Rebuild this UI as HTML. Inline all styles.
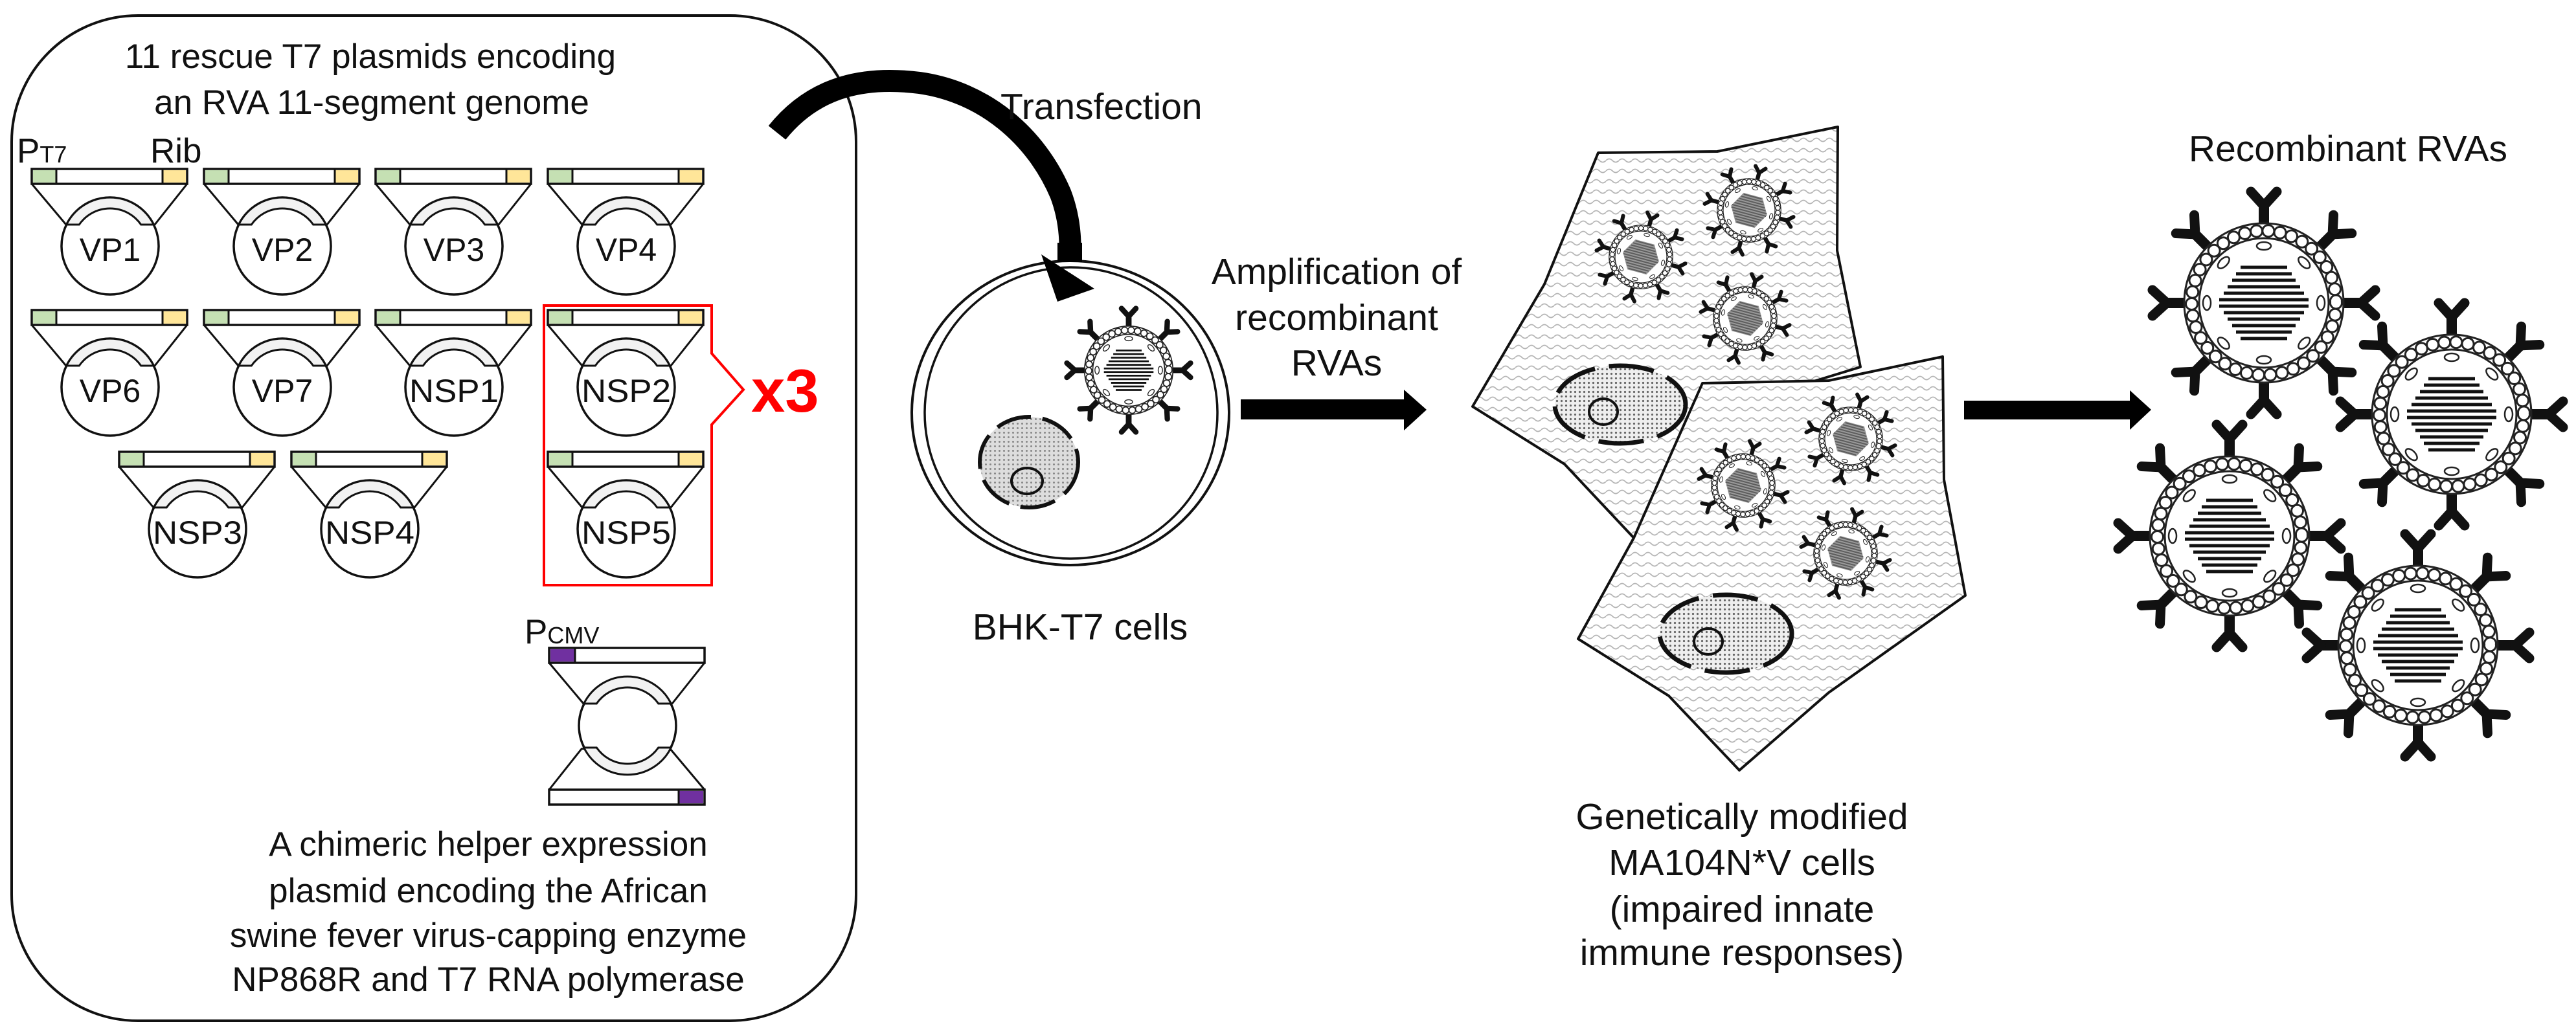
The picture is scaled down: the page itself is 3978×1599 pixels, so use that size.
<!DOCTYPE html>
<html><head><meta charset="utf-8"><style>html,body{margin:0;padding:0;background:#fff}svg{display:block}</style></head>
<body>
<svg width="3978" height="1599" viewBox="0 0 3978 1599" xmlns="http://www.w3.org/2000/svg" font-family="'Liberation Sans', Arial, sans-serif">
<defs>
  <pattern id="wave" width="20" height="16" patternUnits="userSpaceOnUse">
    <rect width="20" height="16" fill="#fff"/>
    <path d="M0,8 Q5,3 10,8 T20,8" fill="none" stroke="#b5b5b5" stroke-width="1.8"/>
  </pattern>
  <pattern id="dots" width="7" height="7" patternUnits="userSpaceOnUse">
    <rect width="7" height="7" fill="#eee"/>
    <circle cx="3.5" cy="3.5" r="1.6" fill="#666"/>
  </pattern>
  <pattern id="dots2" width="7" height="7" patternUnits="userSpaceOnUse">
    <rect width="7" height="7" fill="#ddd"/>
    <circle cx="3.5" cy="3.5" r="1.5" fill="#888"/>
  </pattern>
  <g id="sp">
    <rect x="-8" y="-152" width="16" height="34" fill="#111"/>
    <path d="M0,-150 L-20,-172 M0,-150 L20,-172" stroke="#111" stroke-width="15" stroke-linecap="round" fill="none"/>
  </g>
  <ellipse id="ov" cx="0" cy="-88" rx="11" ry="6" fill="#fff" stroke="#222" stroke-width="2.5"/>
  <g id="v">
    <use href="#sp"/><use href="#sp" transform="rotate(45)"/><use href="#sp" transform="rotate(90)"/><use href="#sp" transform="rotate(135)"/>
    <use href="#sp" transform="rotate(180)"/><use href="#sp" transform="rotate(225)"/><use href="#sp" transform="rotate(270)"/><use href="#sp" transform="rotate(315)"/>
    <circle r="123" fill="#fff" stroke="#222" stroke-width="3"/>
    <circle r="111.5" fill="none" stroke="#222" stroke-width="21" stroke-dasharray="0 18.35" stroke-linecap="round"/>
    <circle r="111.5" fill="none" stroke="#fff" stroke-width="15" stroke-dasharray="0 18.35" stroke-linecap="round"/>
    <circle r="100" fill="#fff" stroke="#222" stroke-width="3"/>
    <use href="#ov"/><use href="#ov" transform="rotate(45)"/><use href="#ov" transform="rotate(90)"/><use href="#ov" transform="rotate(135)"/>
    <use href="#ov" transform="rotate(180)"/><use href="#ov" transform="rotate(225)"/><use href="#ov" transform="rotate(270)"/><use href="#ov" transform="rotate(315)"/>
    <g stroke="#111" stroke-width="5">
      <line x1="-36" y1="-55" x2="36" y2="-55"/><line x1="-43" y1="-45" x2="43" y2="-45"/>
      <line x1="-49" y1="-35" x2="49" y2="-35"/><line x1="-56" y1="-25" x2="56" y2="-25"/>
      <line x1="-62" y1="-15" x2="62" y2="-15"/><line x1="-69" y1="-5" x2="69" y2="-5"/>
      <line x1="-69" y1="5" x2="69" y2="5"/><line x1="-62" y1="15" x2="62" y2="15"/>
      <line x1="-56" y1="25" x2="56" y2="25"/><line x1="-49" y1="35" x2="49" y2="35"/>
      <line x1="-43" y1="45" x2="43" y2="45"/><line x1="-36" y1="55" x2="36" y2="55"/>
    </g>
  </g>
  <g id="vs">
    <use href="#v"/>
    <polygon points="-38,-60 38,-60 72,0 38,60 -38,60 -72,0" fill="#777" opacity="0.75"/>
  </g>
  <g id="tb">
    <polygon points="0,23 53,86 190,86 240,23" fill="#fff" stroke="#111" stroke-width="3" stroke-linejoin="round"/>
    <circle cx="121" cy="119" r="75" fill="#fff" stroke="#111" stroke-width="3.5"/>
    <path d="M53.7,86 A75,75 0 0 1 188.3,86 L168.7,86 A58,58 0 0 0 73.3,86 Z" fill="#f2f2f2" stroke="#111" stroke-width="3"/>
  </g>
  <g id="pl">
    <use href="#tb"/>
    <rect x="0" y="0" width="240" height="23" fill="#fff" stroke="#111" stroke-width="3.5"/>
    <rect x="2" y="2" width="36" height="19" fill="#c5e0b3"/>
    <rect x="202" y="2" width="36" height="19" fill="#ffe699"/>
    <line x1="38" y1="0" x2="38" y2="23" stroke="#111" stroke-width="3"/>
    <line x1="202" y1="0" x2="202" y2="23" stroke="#111" stroke-width="3"/>
  </g>
  <g id="hp">
    <polygon points="0,23 53,86 190,86 240,23" fill="#fff" stroke="#111" stroke-width="3" stroke-linejoin="round"/>
    <rect x="0" y="0" width="240" height="23" fill="#fff" stroke="#111" stroke-width="3.5"/>
    <rect x="2" y="2" width="38" height="19" fill="#7030a0"/>
    <line x1="40" y1="0" x2="40" y2="23" stroke="#111" stroke-width="3"/>
  </g>
  <path id="hband" d="M53.7,86 A75,75 0 0 1 188.3,86 L168.7,86 A58,58 0 0 0 73.3,86 Z" fill="#f2f2f2" stroke="#111" stroke-width="3"/>
</defs>

<rect x="18" y="24" width="1304" height="1553" rx="195" ry="195" fill="#fff" stroke="#111" stroke-width="4"/>

<g font-size="53" fill="#111" text-anchor="middle">
  <text x="572" y="105">11 rescue T7 plasmids encoding</text>
  <text x="574" y="176">an RVA 11-segment genome</text>
</g>
<text x="26" y="251" font-size="53" fill="#111">P<tspan font-size="36">T7</tspan></text>
<text x="232" y="251" font-size="53" fill="#111">Rib</text>

<use href="#pl" x="49" y="261"/><use href="#pl" x="315" y="261"/><use href="#pl" x="580" y="261"/><use href="#pl" x="846" y="261"/>
<use href="#pl" x="49" y="479"/><use href="#pl" x="315" y="479"/><use href="#pl" x="580" y="479"/><use href="#pl" x="846" y="479"/>
<use href="#pl" x="184" y="698"/><use href="#pl" x="450" y="698"/><use href="#pl" x="846" y="698"/>

<g font-size="50" fill="#111" text-anchor="middle">
  <text x="170" y="403">VP1</text><text x="436" y="403">VP2</text><text x="701" y="403">VP3</text><text x="967" y="403">VP4</text>
  <text x="170" y="621">VP6</text><text x="436" y="621">VP7</text><text x="701" y="621" textLength="138" lengthAdjust="spacingAndGlyphs">NSP1</text><text x="967" y="621" textLength="138" lengthAdjust="spacingAndGlyphs">NSP2</text>
  <text x="305" y="840" textLength="138" lengthAdjust="spacingAndGlyphs">NSP3</text><text x="571" y="840" textLength="138" lengthAdjust="spacingAndGlyphs">NSP4</text><text x="967" y="840" textLength="138" lengthAdjust="spacingAndGlyphs">NSP5</text>
</g>

<path d="M1099,546 L1099,472 L840,472 L840,904 L1099,904 L1099,656 L1148,602 Z" fill="none" stroke="#ff0000" stroke-width="4"/>
<text x="1160" y="636" font-size="94" font-weight="bold" fill="#ff0000">x3</text>

<text x="810" y="994" font-size="53" fill="#111">P<tspan font-size="36">CMV</tspan></text>
<g transform="translate(848,1001)">
  <use href="#hp"/>
  <use href="#hp" transform="rotate(180 120 121)"/>
  <circle cx="121" cy="120" r="75" fill="#fff" stroke="#111" stroke-width="3.5"/>
  <use href="#hband"/>
  <use href="#hband" transform="rotate(180 121 120)"/>
</g>

<g font-size="53" fill="#111" text-anchor="middle">
  <text x="754" y="1322">A chimeric helper expression</text>
  <text x="754" y="1394">plasmid encoding the African</text>
  <text x="754" y="1463">swine fever virus-capping enzyme</text>
  <text x="754" y="1531">NP868R and T7 RNA polymerase</text>
</g>

<path d="M1200,205 C1260,130 1340,118 1420,128 C1520,142 1600,210 1638,300 C1655,345 1653,385 1652,405" fill="none" stroke="#000" stroke-width="34"/>
<text x="1545" y="184" font-size="57" fill="#111">Transfection</text>

<ellipse cx="1653" cy="638" rx="245" ry="235" fill="#fff" stroke="#111" stroke-width="4"/>
<ellipse cx="1654" cy="638" rx="226" ry="225" fill="none" stroke="#111" stroke-width="3.5"/>
<rect x="1633" y="375" width="38" height="30" fill="#000"/>
<polygon points="1608,393 1690,446 1633,466" fill="#000"/>
<ellipse cx="1589" cy="714" rx="76" ry="70" fill="url(#dots2)" stroke="#111" stroke-width="6" stroke-dasharray="55 18"/>
<ellipse cx="1586" cy="743" rx="24" ry="20" fill="url(#dots2)" stroke="#111" stroke-width="4"/>
<use href="#v" transform="translate(1743,572) scale(0.555)"/>
<text x="1668" y="988" font-size="57" fill="#111" text-anchor="middle">BHK-T7 cells</text>

<g font-size="57" fill="#111" text-anchor="middle">
  <text x="2064" y="439">Amplification of</text>
  <text x="2064" y="510">recombinant</text>
  <text x="2064" y="580">RVAs</text>
</g>
<rect x="1916" y="617" width="256" height="31" fill="#000"/>
<polygon points="2168,602 2203,633 2168,665" fill="#000"/>

<polygon points="2468,236 2652,234 2838,196 2837,387 2873,567 2700,620 2523,831 2416,717 2274,628 2385,439" fill="url(#wave)" stroke="#111" stroke-width="4" stroke-linejoin="round"/>
<ellipse cx="2502" cy="625" rx="101" ry="60" fill="url(#dots)" stroke="#111" stroke-width="7" stroke-dasharray="70 22"/>
<ellipse cx="2476" cy="636" rx="22" ry="20" fill="url(#dots)" stroke="#111" stroke-width="4"/>
<use href="#vs" transform="translate(2534,397) rotate(15) scale(0.4)"/>
<use href="#vs" transform="translate(2701,325) rotate(15) scale(0.4)"/>
<use href="#vs" transform="translate(2695,492) rotate(15) scale(0.4)"/>

<polygon points="2629,592 2824,588 3000,551 3002,741 3035,920 2824,1070 2686,1190 2577,1075 2437,987 2523,831" fill="url(#wave)" stroke="#111" stroke-width="4" stroke-linejoin="round"/>
<ellipse cx="2665" cy="979" rx="102" ry="60" fill="url(#dots)" stroke="#111" stroke-width="7" stroke-dasharray="70 22"/>
<ellipse cx="2638" cy="991" rx="22" ry="20" fill="url(#dots)" stroke="#111" stroke-width="4"/>
<use href="#vs" transform="translate(2692,750) rotate(15) scale(0.4)"/>
<use href="#vs" transform="translate(2858,678) rotate(15) scale(0.4)"/>
<use href="#vs" transform="translate(2850,855) rotate(15) scale(0.4)"/>

<g font-size="57" fill="#111" text-anchor="middle">
  <text x="2690" y="1281">Genetically modified</text>
  <text x="2690" y="1352">MA104N*V cells</text>
  <text x="2690" y="1424">(impaired innate</text>
  <text x="2690" y="1491">immune responses)</text>
</g>

<rect x="3033" y="619" width="260" height="29" fill="#000"/>
<polygon points="3289,603 3322,633 3289,664" fill="#000"/>

<text x="3626" y="249" font-size="57" fill="#111" text-anchor="middle">Recombinant RVAs</text>
<use href="#v" transform="translate(3496,468)"/>
<use href="#v" transform="translate(3786,640)"/>
<use href="#v" transform="translate(3443,828)"/>
<use href="#v" transform="translate(3734,997)"/>
</svg>
</body></html>
